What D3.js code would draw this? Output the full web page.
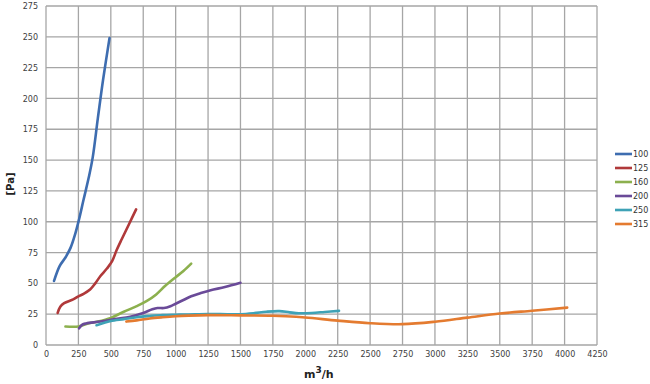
<!DOCTYPE html>
<html>
  <head>
    <meta charset="utf-8">
    <script src="https://d3js.org/d3.v7.min.js"></script>
    <style>
      body { margin: 0px; background: #fff; }
      .tick text { fill: #404040; font-size: 8px; font-family: "DejaVu Sans", sans-serif; }
      .axis-title { fill: #222; font-family: "DejaVu Sans", sans-serif; font-weight: bold; }
      .legend text { fill: #333; font-size: 8px; font-family: "DejaVu Sans", sans-serif; }
    </style>
  </head>
  <body>
    <svg width="650" height="384"></svg>
    <script>
      const seriesNames = ['100', '125', '160', '200', '250', '315'];
      const colors = ['#3e6db0', '#b0393a', '#8cb04e', '#6a4a98', '#3ea2b6', '#e47b30'];

      const s100 = [[62,52],[105,64],[150,71],[190,79],[225,90],[255,102],[290,118],[330,136],[360,152],[400,184],[440,215],[490,249]];
      const s125 = [[90,26],[110,31],[140,34],[210,37],[250,39.5],[290,41.5],[340,45],[380,50],[420,56],[470,62],[510,68],[545,77],[585,86],[640,98],[695,110]];
      const s160 = [[150,15],[250,15],[325,17.5],[400,19],[500,22],[600,27],[700,31.5],[775,35.5],[850,41],[920,48],[1000,55],[1060,60],[1120,66]];
      const s200 = [[255,13.5],[280,16.5],[310,17.5],[420,19],[530,21],[650,23],[750,26],[820,29],[860,30],[910,30],[960,31.5],[1000,33.5],[1060,36.5],[1120,39.5],[1190,42],[1270,44.5],[1380,47],[1500,50.5]];
      const s250 = [[390,16],[450,18],[500,19.5],[600,21],[700,22.5],[800,23.5],[900,24.3],[1000,24.6],[1100,24.8],[1250,25.1],[1400,25],[1500,25],[1600,25.8],[1700,27],[1800,27.5],[1880,26.5],[1950,25.8],[2050,26],[2150,26.8],[2260,27.7]];
      const s315 = [[620,19],[700,20],[800,21.5],[900,22.5],[1000,23.3],[1100,23.8],[1250,24.2],[1500,24],[1750,23.7],[1850,23.3],[2000,22.3],[2250,19.8],[2500,17.7],[2750,16.9],[3000,18.9],[3250,22.2],[3500,25.5],[3750,27.8],[4020,30.3]];
      const seriesData = [s100, s125, s160, s200, s250, s315];

      const xTicks = d3.range(0, 4251, 250);
      const yTicks = d3.range(0, 276, 25);

      const margin = { left: 46, top: 6, right: 53, bottom: 39 };
      const svg = d3.select('svg');
      const width = +svg.attr('width');
      const height = +svg.attr('height');
      const innerWidth = width - margin.left - margin.right;
      const innerHeight = height - margin.top - margin.bottom;

      const x = d3.scaleLinear().domain([0, 4250]).range([0, innerWidth]);
      const y = d3.scaleLinear().domain([0, 275]).range([innerHeight, 0]);

      const g = svg.append('g')
          .attr('transform', `translate(${margin.left},${margin.top})`);

      // grid
      g.append('g').selectAll('line').data(xTicks)
        .enter().append('line')
          .attr('x1', d => x(d)).attr('x2', d => x(d))
          .attr('y1', 0).attr('y2', innerHeight)
          .attr('stroke', '#a6a6a6').attr('stroke-width', 1.3);
      g.append('g').selectAll('line').data(yTicks)
        .enter().append('line')
          .attr('x1', 0).attr('x2', innerWidth)
          .attr('y1', d => y(d)).attr('y2', d => y(d))
          .attr('stroke', '#a6a6a6').attr('stroke-width', 1.3);

      const xAxis = g.append('g')
          .attr('transform', `translate(0,${innerHeight})`)
          .call(d3.axisBottom(x).tickValues(xTicks).tickFormat(d3.format('d')).tickSize(0).tickPadding(6));
      xAxis.select('.domain').remove();

      const yAxis = g.append('g')
          .call(d3.axisLeft(y).tickValues(yTicks).tickFormat(d3.format('d')).tickSize(0).tickPadding(8));
      yAxis.select('.domain').remove();

      const line = d3.line()
        .x(d => x(d[0]))
        .y(d => y(d[1]))
        .curve(d3.curveCatmullRom.alpha(0.5));

      g.selectAll('.series').data(seriesData)
        .enter().append('path')
          .attr('class', 'series')
          .attr('d', line)
          .attr('fill', 'none')
          .attr('stroke', (d, i) => colors[i])
          .attr('stroke-width', 2.6)
          .attr('stroke-linecap', 'round')
          .attr('stroke-linejoin', 'round');

      // axis titles
      svg.append('text')
          .attr('class', 'axis-title')
          .attr('transform', 'translate(14,184) rotate(-90)')
          .attr('text-anchor', 'middle')
          .attr('font-size', 10)
          .text('[Pa]');

      const xt = svg.append('text')
          .attr('class', 'axis-title')
          .attr('x', 304)
          .attr('y', 378)
          .attr('font-size', 11);
      xt.append('tspan').text('m');
      xt.append('tspan').attr('dy', -5).attr('font-size', 9).text('3');
      xt.append('tspan').attr('dy', 5).text('/h');

      // legend
      const legend = svg.append('g')
          .attr('class', 'legend')
          .attr('transform', 'translate(615,154)');
      const items = legend.selectAll('g').data(seriesNames)
        .enter().append('g')
          .attr('transform', (d, i) => `translate(0,${i * 14})`);
      items.append('line')
          .attr('x1', 0).attr('x2', 17)
          .attr('stroke', (d, i) => colors[i])
          .attr('stroke-width', 2.6);
      items.append('text')
          .attr('x', 18)
          .attr('dy', '0.35em')
          .text(d => d);
    </script>
  </body>
</html>
